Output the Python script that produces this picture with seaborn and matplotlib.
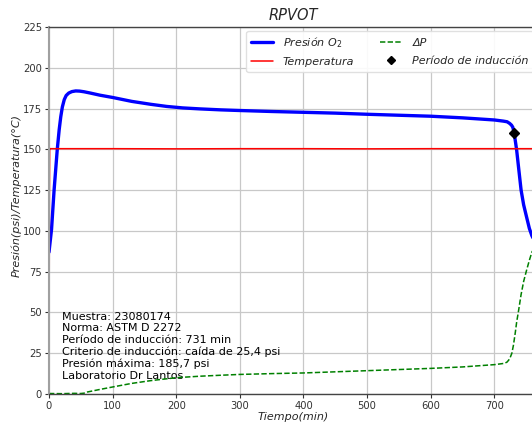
import numpy as np
import matplotlib
matplotlib.use("Agg")
import matplotlib.pyplot as plt
import seaborn as sns
from matplotlib.lines import Line2D

# ── Data ──────────────────────────────────────────────────────
t_pres = [0, 4, 8, 13, 16, 18.5, 21, 24, 27, 31, 36, 42, 48, 55, 65, 80, 100,
          130, 160, 185, 210, 237, 270, 300, 350, 400, 450, 500, 550, 600, 650,
          700, 714, 720, 724, 727, 729, 731, 733, 735, 738, 742, 746, 750, 755,
          759, 767]
presion = [87, 101, 125, 150, 162, 170, 176, 180.5, 183, 184.5, 185.4, 185.8,
           185.7, 185.3, 184.5, 183.2, 181.8, 179.4, 177.6, 176.3, 175.4, 174.8,
           174.2, 173.8, 173.2, 172.7, 172.2, 171.5, 170.9, 170.3, 169.3, 168.0,
           167.3, 166.9, 165.9, 164.8, 163.5, 160.3, 155, 149.6, 139, 125, 116,
           109.5, 101.5, 97, 91]

t_temp = [0, 0.3, 0.6, 1.0, 2, 100, 200, 300, 400, 500, 600, 700, 767]
temperatura = [20, 60, 120, 150.5, 150.4, 150.4, 150.3, 150.4, 150.4, 150.3,
               150.4, 150.4, 150.4]

t_dp = [0, 20, 40, 50, 55, 60, 70, 80, 100, 130, 160, 200, 237, 270, 300, 350,
        400, 450, 500, 550, 600, 650, 700, 716, 720, 724, 727.5, 730, 733, 735,
        738, 742, 746, 750, 755, 759, 767]
delta_p = [0.3, 0.2, 0.4, 0.3, 0.5, 1.2, 2, 2.8, 4.3, 6.5, 8.2, 10, 10.9, 11.5,
           12, 12.5, 12.9, 13.6, 14.3, 15, 15.7, 16.6, 18, 18.8, 19.6, 21.5, 25,
           30, 38, 44, 51, 61, 69, 75, 82, 87, 92]

t_induccion = [731]
p_induccion = [160.3]

texto = ["Muestra: 23080174",
         "Norma: ASTM D 2272",
         "Período de inducción: 731 min",
         "Criterio de inducción: caída de 25,4 psi",
         "Presión máxima: 185,7 psi",
         "Laboratorio Dr Lantos"]

x_ticks = [0, 100, 200, 300, 400, 500, 600, 700]
y_ticks = [0, 25, 50, 75, 100, 125, 150, 175, 200, 225]


def main():
    sns.set_style("whitegrid", {
        "grid.color": "#c8c8c8",
        "axes.edgecolor": "#444444",
        "xtick.bottom": True,
        "ytick.left": True,
    })
    plt.rcParams["font.family"] = ["DejaVu Sans"]

    fig = plt.figure(figsize=(5.32, 4.25), dpi=100)
    ax = fig.add_axes([49 / 532, 31 / 425, 488 / 532, 367 / 425])

    # ── Curves ─────────────────────────────────────────────────
    sns.lineplot(x=t_pres, y=presion, ax=ax, color="#0000ff", lw=2.4,
                 sort=False, estimator=None)
    sns.lineplot(x=t_temp, y=temperatura, ax=ax, color="#ff0000", lw=1.1,
                 sort=False, estimator=None)
    sns.lineplot(x=t_dp, y=delta_p, ax=ax, color="#008000", lw=1.1,
                 ls=(0, (3.5, 1.5)), sort=False, estimator=None)
    ax.plot(t_induccion, p_induccion, ls="none", marker="D", ms=5,
            color="black", zorder=5)

    # ── Axes ───────────────────────────────────────────────────
    ax.set_xlim(0, 767)
    ax.set_ylim(0, 225)
    ax.set_xticks(x_ticks)
    ax.set_yticks(y_ticks)
    ax.tick_params(labelsize=7.2, labelcolor="#333333", length=3, width=0.8,
                   color="#333333", pad=2)
    ax.grid(True, lw=0.9)

    ax.spines["left"].set_color("#a0a0a0")
    ax.spines["left"].set_linewidth(1.5)
    for s in ["top", "bottom"]:
        ax.spines[s].set_color("#444444")
        ax.spines[s].set_linewidth(1.0)

    ax.set_title("RPVOT", fontsize=10.5, style="italic", pad=5)
    ax.set_xlabel("Tiempo(min)", fontsize=8, style="italic", labelpad=1)
    ax.set_ylabel("Presión(psi)/Temperatura(°C)", fontsize=8, style="italic")
    ax.yaxis.set_label_coords(-0.056, 0.54)

    ax.text(20, 8, "\n".join(texto), fontsize=8, va="bottom", ha="left",
            color="black", zorder=1)

    # ── Legend ─────────────────────────────────────────────────
    handles = [
        Line2D([], [], color="#0000ff", lw=2.4),
        Line2D([], [], color="#ff0000", lw=1.1),
        Line2D([], [], color="#008000", lw=1.1, ls=(0, (3.5, 1.5))),
        Line2D([], [], color="black", ls="none", marker="D", ms=4),
    ]
    labels = ["Presión O$_2$", "Temperatura", "ΔP", "Período de inducción"]
    ax.legend(handles, labels, loc="upper right", ncol=2,
              prop={"style": "italic", "size": 8}, frameon=True,
              framealpha=0.9, edgecolor="#dddddd", borderaxespad=0.35,
              columnspacing=2.3, labelspacing=0.65, handletextpad=0.9)

    fig.savefig("out.png", dpi=100)
    plt.close(fig)


if __name__ == "__main__":
    main()
